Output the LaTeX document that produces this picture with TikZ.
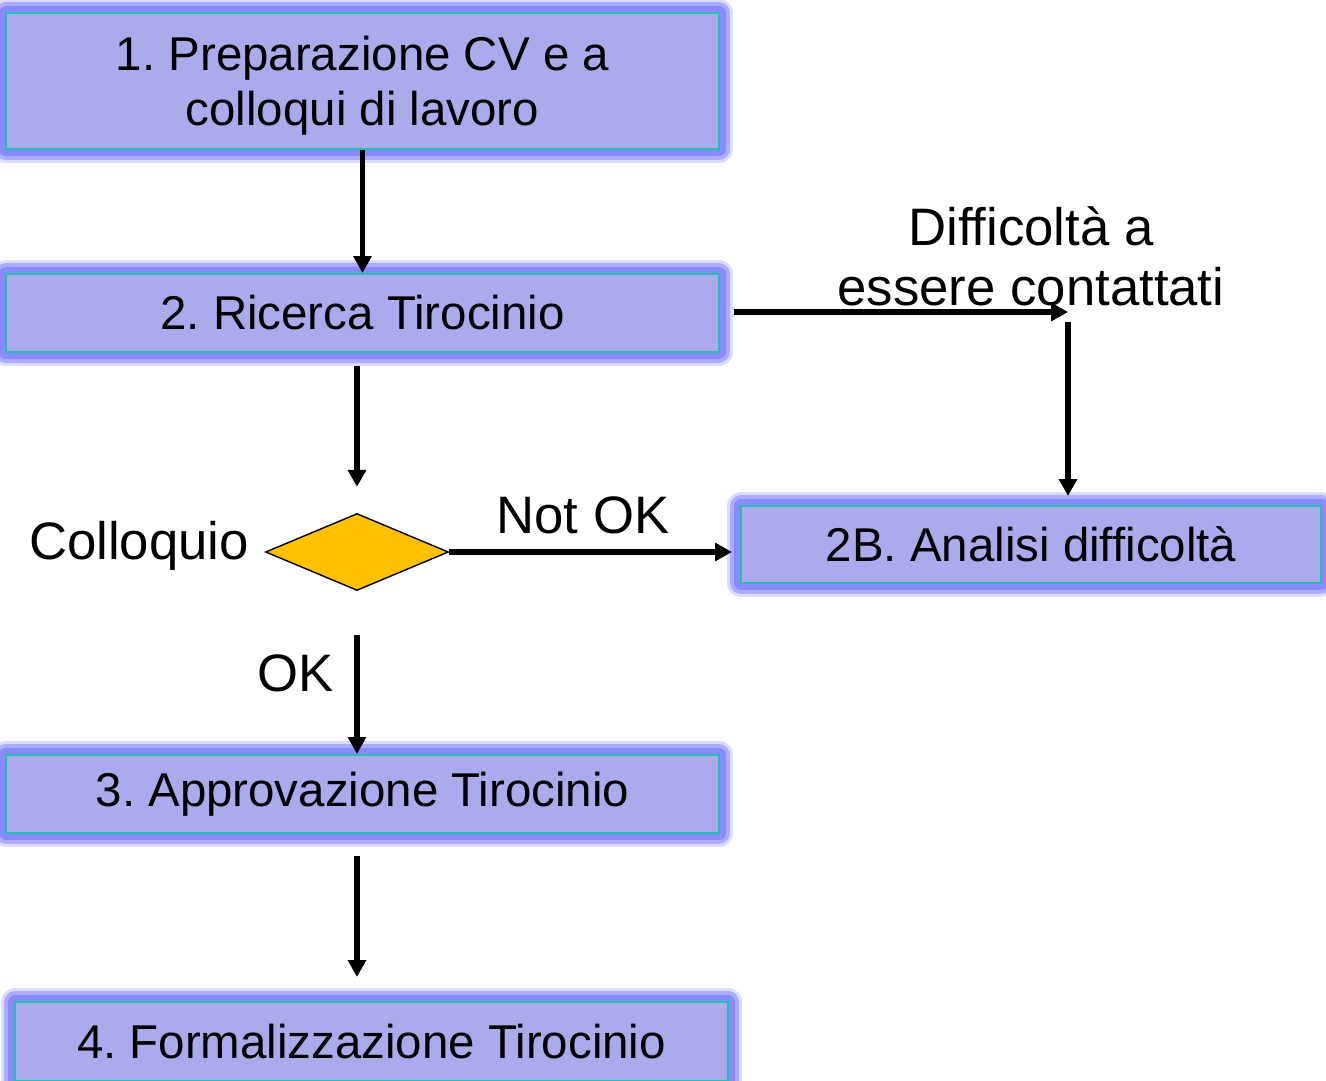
\documentclass[tikz,border=0pt]{standalone}
\usepackage{fontspec}
\setmainfont{Liberation Sans}
\definecolor{BoxFill}{HTML}{AAAAEC}
\definecolor{BoxEdge}{HTML}{22C0AE}
\definecolor{GlowBlue}{HTML}{8A8AFF}
\definecolor{DecisionGold}{HTML}{FFC000}
\usetikzlibrary{arrows.meta,shapes.geometric}
\frenchspacing

\begin{document}
\begin{tikzpicture}[
    stepbox/.style={rectangle,fill=BoxFill,draw=BoxEdge,line width=1.2pt,
      minimum width=14.26cm,minimum height=1.56cm,inner sep=0pt,align=center,
      font=\fontsize{27}{31}\selectfont,
      preaction={draw=GlowBlue,line width=16pt,line join=round,opacity=0.3},
      preaction={draw=GlowBlue,line width=12pt,line join=round,opacity=0.6},
      preaction={draw=GlowBlue,line width=8pt,line join=round}},
    flow/.style={-{Triangle[length=9.6pt,width=10pt]},line width=2.9pt},
    lbl/.style={font=\fontsize{30}{34}\selectfont}]
        \useasboundingbox (0,0) rectangle (26.52,-21.62);
        % steps
        \node[stepbox,minimum height=2.72cm] (prep) at (7.25,-1.62)
              {\rule{0pt}{25pt}1. Preparazione CV e a\\colloqui di lavoro};
        \node[stepbox] (ricerca) at (7.25,-6.26) {2. Ricerca Tirocinio};
        \node[diamond,fill=DecisionGold,draw=black,line width=0.8pt,
              minimum width=3.66cm,minimum height=1.54cm,inner sep=0pt]
              (colloquio) at (7.14,-11.04) {};
        \node[stepbox,minimum width=11.6cm,minimum height=1.54cm]
              (analisi) at (20.62,-10.89) {2B. Analisi difficoltà};
        \node[stepbox] (approv) at (7.25,-15.88) {3. Approvazione Tirocinio};
        \node[stepbox,minimum height=1.58cm] (formal) at (7.43,-20.83)
              {4. Formalizzazione Tirocinio};
        % labels
        \node[lbl] (collLbl) at (2.78,-10.92) {Colloquio};
        \node[lbl] (notOk) at (11.66,-10.3) {Not OK};
        \node[lbl] (ok) at (5.92,-13.46) {OK};
        \node[lbl,align=center] (diffLbl) at (20.62,-5.12)
              {Difficoltà a\\essere contattati};
        % arrows
        \coordinate (turn) at (21.36,-6.24);
        \draw[flow] (prep) -- (ricerca);
        \draw[flow,shorten <=0.26cm,shorten >=0.52cm]
              (ricerca.south -| colloquio.north) -- (colloquio.north);
        \draw[flow,shorten <=0.28cm] (ricerca.east |- turn) -- (turn);
        \draw[flow,shorten <=0.2cm,shorten >=0.18cm]
              (turn) -- (turn |- analisi.north);
        \draw[flow,shorten >=0.16cm]
              (colloquio.east) -- (colloquio.east -| analisi.west);
        \draw[flow,shorten <=0.88cm]
              (colloquio.south) -- (colloquio.south |- approv.north);
        \draw[flow,shorten <=0.44cm,shorten >=0.48cm]
              (approv.south -| colloquio.south) -- (colloquio.south |- formal.north);
      \end{tikzpicture}
\end{document}
